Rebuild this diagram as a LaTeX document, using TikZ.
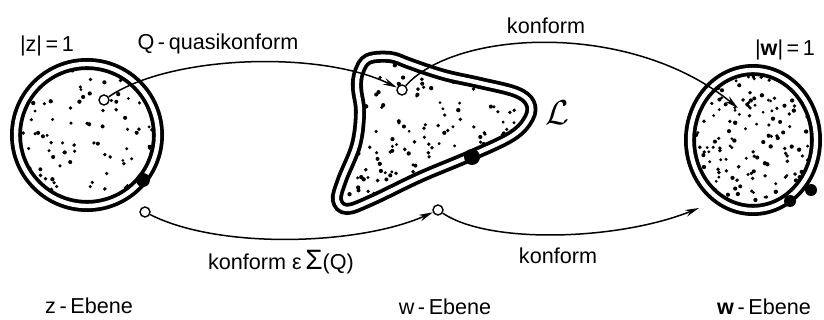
\documentclass[tikz,border=0pt]{standalone}
\usepackage{fontspec}
\setmainfont{Liberation Sans}
\usetikzlibrary{arrows.meta}

\newcommand{\blobline}{plot[smooth cycle, tension=0.6] coordinates {
  (359,72) (368,59) (390,57) (408,63) (425,69) (448,76) (480,83)
  (516,92) (530,103) (529,118) (512,136) (470,156) (420,177)
  (372,200) (347,209) (337,200) (342,180) (356,145) (360,112) (357,88)}}

\begin{document}
\begin{tikzpicture}[
      x=0.5pt, y=-0.5pt,
      lbl/.style={font=\fontsize{10.8}{13}\selectfont, inner sep=0pt},
      rim/.style={draw, line width=1.9pt, double, double distance=2.2pt},
      port/.style={circle, draw, fill=white, line width=0.7pt, inner sep=0pt,
                   minimum size=5pt},
      knot/.style={circle, fill, inner sep=0pt, minimum size=7pt},
      arr/.style={-{Stealth[length=7pt, width=3.4pt]}, line width=0.75pt}
    ]
    \useasboundingbox (0,0) rectangle (824,320);
    \pgfmathsetseed{4711}
    % stippled discs and region
    \begin{scope}
      \clip (87,135) circle [radius=71];
      \foreach \i in {1,...,95}
        \fill ({22+130*rnd},{70+130*rnd}) circle [radius={0.75pt+0.35pt*rnd}];
    \end{scope}
    \begin{scope}
      \clip \blobline;
      \foreach \i in {1,...,180}
        \fill ({335+200*rnd},{55+155*rnd}) circle [radius={0.75pt+0.35pt*rnd}];
    \end{scope}
    \begin{scope}
      \clip (753,140) ellipse [x radius=63, y radius=70];
      \foreach \i in {1,...,180}
        \fill ({690+126*rnd},{70+140*rnd}) circle [radius={0.75pt+0.35pt*rnd}];
    \end{scope}
    \draw[rim] (87,135) circle [radius=71];
    \draw[rim] \blobline;
    \draw[rim] (753,140) ellipse [x radius=63, y radius=70];
    % points
    \node[knot] (zr) at (143,180) {};
    \node[knot, minimum width=6pt, minimum height=8pt] (wr) at (472,157) {};
    \node[knot, minimum size=6pt] (er1) at (790,201) {};
    \node[knot, minimum size=6pt] (er2) at (811,190) {};
    \node[port] (zq) at (104,100) {};
    \node[port] (wq) at (402,90) {};
    \node[port] (zk) at (145,212) {};
    \node[port] (wk) at (438,210) {};
    \coordinate (eq) at (738,108);
    \coordinate (ek) at (699,208);
    % maps
    \draw[arr] (zq) .. controls (170,55) and (320,50) .. (wq);
    \draw[arr] (wq) .. controls (455,30) and (630,20) .. (eq);
    \draw[arr] (zk) .. controls (220,250) and (360,245) .. (wk);
    \draw[arr] (wk) .. controls (490,245) and (620,240) .. (ek);
    % labels
    \node[lbl] (zlab) at (47,46) {|z|\,=\,1};
    \node[lbl] (wlab) at (785,50) {|\textbf{w}|\,=\,1};
    \node[lbl] (qlab) at (218,44) {Q\,-\,quasikonform};
    \node[lbl] (klab1) at (546,26) {konform};
    \node[lbl, font=\fontsize{16}{16}\selectfont] (llab) at (557,113) {$\mathcal{L}$};
    \node[lbl] (klab2) at (281,262)
      {konform\ ε\,{\fontsize{14}{14}\selectfont Σ}(Q)};
    \node[lbl] (klab3) at (558,256) {konform};
    \node[lbl] (zeb) at (89,306) {z\,-\,Ebene};
    \node[lbl] (web) at (445,307) {w\,-\,Ebene};
    \node[lbl] (eeb) at (764,307) {\textbf{w}\,-\,Ebene};
\end{tikzpicture}
\end{document}
